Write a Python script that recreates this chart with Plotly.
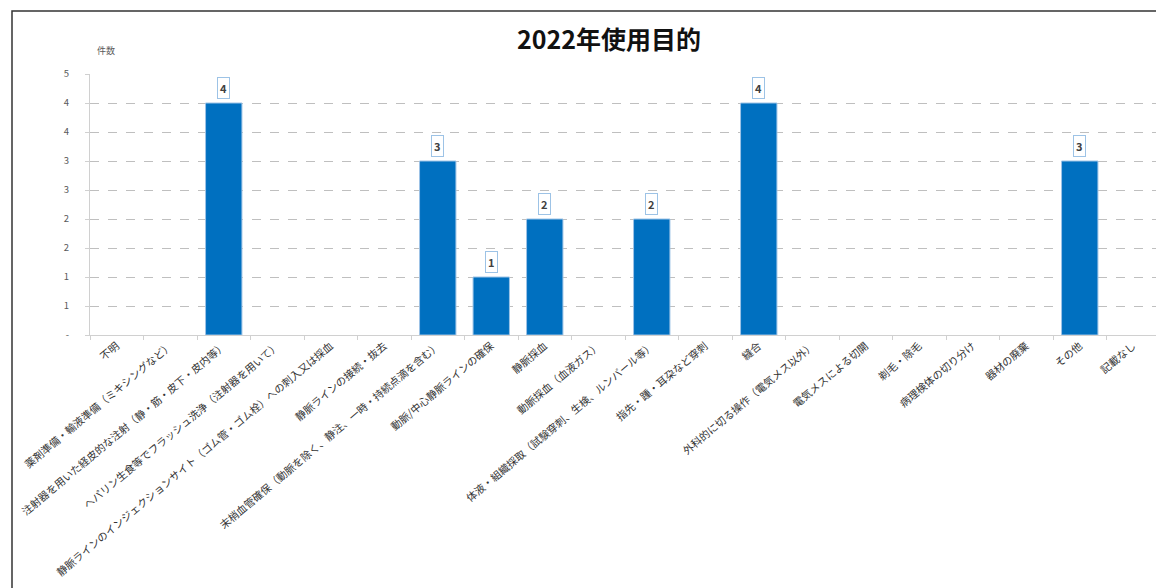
"""2022年使用目的 — 使用目的別件数の棒グラフ。"""
import plotly.graph_objects as go

# ─── データ ────────────────────────────────────────────────────────────────
CATEGORIES = [
    "不明",
    "薬剤準備・輸液準備（ミキシングなど）",
    "注射器を用いた経皮的な注射（静・筋・皮下・皮内等）",
    "ヘパリン生食等でフラッシュ洗浄（注射器を用いて）",
    "静脈ラインのインジェクションサイト（ゴム管・ゴム栓）への刺入又は採血",
    "静脈ラインの接続・抜去",
    "末梢血管確保（動脈を除く、静注、一時・持続点滴を含む）",
    "動脈/中心静脈ラインの確保",
    "静脈採血",
    "動脈採血（血液ガス）",
    "体液・組織採取（試験穿刺、生検、ルンバール等）",
    "指先・踵・耳朶など穿刺",
    "縫合",
    "外科的に切る操作（電気メス以外）",
    "電気メスによる切開",
    "剃毛・除毛",
    "病理検体の切り分け",
    "器材の廃棄",
    "その他",
    "記載なし",
]
COUNTS = [0, 0, 4, 0, 0, 0, 3, 1, 2, 0, 2, 0, 4, 0, 0, 0, 0, 0, 3, 0]

Y_TICKVALS = [0, 0.5, 1, 1.5, 2, 2.5, 3, 3.5, 4, 4.5]
Y_TICKTEXT = ["-", "1", "1", "2", "2", "3", "3", "4", "4", "5"]

TITLE = "2022年使用目的"
Y_LABEL = "件数"

# ─── スタイル ──────────────────────────────────────────────────────────────
FONT = "Noto Sans CJK JP, Noto Sans, sans-serif"
BAR_COLOR = "#0070C0"
BAR_EDGE = "#9DC3E6"
GRID = "#BFBFBF"
AXIS = "#D0D0D0"
TEXT_GRAY = "#595959"

# ページ本体の余白 8px を差し引いたサイズ
W, H = 1156, 580
M_L, M_R, M_T, M_B = 82, 4, 66, 253
pw, ph = W - M_L - M_R, H - M_T - M_B

fig = go.Figure(
    go.Bar(
        x=CATEGORIES,
        y=COUNTS,
        marker=dict(
            color=BAR_COLOR,
            line=dict(color=BAR_EDGE, width=[1 if v > 0 else 0 for v in COUNTS]),
        ),
        width=0.68,
        hoverinfo="x+y",
    )
)

# データラベル（枠付き）
for cat, val in zip(CATEGORIES, COUNTS):
    if val <= 0:
        continue
    fig.add_annotation(
        x=cat,
        y=val,
        text=f"<b>{val}</b>",
        showarrow=False,
        yanchor="bottom",
        yshift=4,
        font=dict(size=11, color="#404040", family=FONT),
        bgcolor="white",
        bordercolor=BAR_EDGE,
        borderwidth=1,
        borderpad=2,
    )

# 軸ラベル「件数」
fig.add_annotation(
    xref="paper", yref="paper",
    x=(87 - M_L) / pw, y=1 + (M_T - 42) / ph,
    text=Y_LABEL, showarrow=False,
    xanchor="left", yanchor="middle",
    font=dict(size=9, color=TEXT_GRAY, family=FONT),
)

# 外枠
fig.add_shape(
    type="rect", xref="paper", yref="paper",
    x0=(4 - M_L) / pw, x1=(1152 - M_L) / pw,
    y0=-(H + 20 - M_T - ph) / ph, y1=1 + (M_T - 3) / ph,
    line=dict(color="#333333", width=1.5), fillcolor="rgba(0,0,0,0)",
    layer="below",
)

fig.update_layout(
    width=W,
    height=H,
    paper_bgcolor="white",
    plot_bgcolor="white",
    margin=dict(l=M_L, r=M_R, t=M_T, b=M_B),
    font=dict(family=FONT, color=TEXT_GRAY),
    showlegend=False,
    title=dict(
        text=f"<b>{TITLE}</b>",
        x=601 / W, xanchor="center",
        y=1 - 32 / H, yanchor="middle",
        font=dict(size=25, color="#111111", family=FONT),
    ),
    xaxis=dict(
        tickangle=-40,
        tickfont=dict(size=10.5, color="#333333", family=FONT),
        showline=True, linecolor=AXIS, linewidth=1,
        ticks="outside", tickson="boundaries", ticklen=4, tickcolor=AXIS,
        showgrid=False,
        automargin=False,
    ),
    yaxis=dict(
        range=[0, 4.5],
        tickvals=Y_TICKVALS,
        ticktext=Y_TICKTEXT,
        tickfont=dict(size=9.5, color=TEXT_GRAY, family=FONT),
        ticklabelstandoff=14,
        showline=True, linecolor=AXIS, linewidth=1,
        ticks="outside", ticklen=4, tickcolor=AXIS,
        showgrid=True, gridcolor=GRID, griddash="dash", gridwidth=1,
        zeroline=False,
        automargin=False,
    ),
)

fig.write_html("out.html")
